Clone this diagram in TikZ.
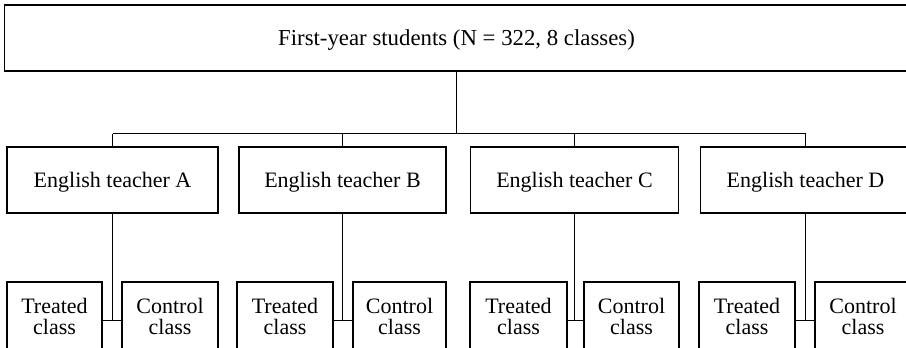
\documentclass[tikz,border=0pt]{standalone}
\usepackage{fontspec}
\setmainfont{Liberation Serif}
\begin{document}
\begin{tikzpicture}[x=1pt,y=-1pt,
  box/.style={draw, line width=1.3pt, inner sep=0pt, font=\fontsize{22}{21}\selectfont},
  onebox/.style={box, text height=15pt, text depth=0pt},
  teacher/.style={onebox, minimum width=210pt, minimum height=66pt},
  cls/.style={box, align=center, minimum height=68pt},
  link/.style={line width=1.3pt}]
\useasboundingbox (0,0) rectangle (906,348);
\clip (0,0) rectangle (906,348);
% top
\node[onebox, minimum width=904pt, minimum height=66pt, font=\fontsize{22.8}{22}\selectfont] (top) at (456.5,38) {First-year students (N = 322, 8 classes)};
% teachers
\node[teacher, minimum width=211pt] (tA) at (112.5,180) {English teacher A};
\node[teacher, minimum width=207pt] (tB) at (342.5,180) {English teacher B};
\node[teacher, minimum width=208pt] (tC) at (574.5,180) {English teacher C};
\node[teacher] (tD) at (805.5,180) {English teacher D};
% classes
\node[cls, minimum width=95pt] (aT) at (54.5,316) {Treated\\class};
\node[cls, minimum width=96pt] (aC) at (170,316) {Control\\class};
\node[cls, minimum width=96pt] (bT) at (285,316) {Treated\\class};
\node[cls, minimum width=93pt] (bC) at (399.5,316) {Control\\class};
\node[cls, minimum width=97pt] (cT) at (518.5,316) {Treated\\class};
\node[cls, minimum width=95pt] (cC) at (631.5,316) {Control\\class};
\node[cls, minimum width=96pt] (dT) at (747,316) {Treated\\class};
\node[cls, minimum width=96pt] (dC) at (863,316) {Control\\class};
% connectors
\coordinate (bus) at (456.5,133.5);
\coordinate (jy) at (0,320.5);
\draw[link] (top.south) -- (bus);
\draw[link] (tA.north |- bus) -- (tD.north |- bus);
\foreach \t in {tA,tB,tC,tD}{
  \draw[link] (\t.north |- bus) -- (\t.north);
}
\foreach \t/\l/\r in {tA/aT/aC,tB/bT/bC,tC/cT/cC,tD/dT/dC}{
  \draw[link] (\t.south) -- (\t.south |- jy);
  \draw[link] (\l.east |- jy) -- (\r.west |- jy);
}
\end{tikzpicture}
\end{document}
